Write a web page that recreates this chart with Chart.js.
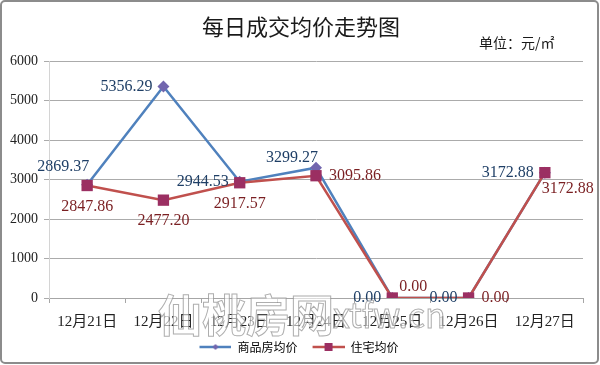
<!DOCTYPE html>
<html lang="zh-CN">
<head>
  <meta charset="UTF-8" />
  <title>每日成交均价走势图</title>
  <script src="https://cdn.jsdelivr.net/npm/chart.js"></script>
  <style>
    html, body { margin: 0; padding: 0; background: #fff; }
    #wrap { width: 600px; height: 365px; position: relative; }
  </style>
</head>
<body>
  <div id="wrap"><canvas id="priceChart"></canvas></div>

  <script>
    // 数据
    const days = ['12月21日', '12月22日', '12月23日', '12月24日', '12月25日', '12月26日', '12月27日'];
    const spfPrice = [2869.37, 5356.29, 2944.53, 3299.27, 0, 0, 3172.88];   // 商品房均价
    const zzPrice = [2847.86, 2477.20, 2917.57, 3095.86, 0, 0, 3172.88];    // 住宅均价
    const yTicks = [0, 1000, 2000, 3000, 4000, 5000, 6000];

    // 数值标签放在点的哪一边
    const spfLabelSide = ['aboveLeft', 'left', 'left', 'topLeft', 'left', 'left', 'left'];
    const zzLabelSide = ['below', 'below', 'below', 'right', 'aboveRight', 'right', 'belowRight'];

    const serif = '"Liberation Serif", "Noto Sans CJK SC", serif';
    const cjk = '"Noto Sans CJK SC", sans-serif';

    const blue = '#4F81BD', blueMark = '#7266AE', blueText = '#1F3F66';
    const red = '#C0504D', redMark = '#9B2F62', redText = '#7A1F22';

    // 图例里的"线+点"小图（左边留 15px 空白，拉开两项的距离）
    function legendIcon(lineColor, markColor, shape) {
      const c = document.createElement('canvas');
      c.width = 47; c.height = 10;
      const g = c.getContext('2d');
      g.strokeStyle = lineColor; g.lineWidth = 2.5;
      g.beginPath(); g.moveTo(15, 5); g.lineTo(47, 5); g.stroke();
      g.fillStyle = markColor;
      g.beginPath();
      if (shape === 'diamond') {
        g.moveTo(31, 2); g.lineTo(34, 5); g.lineTo(31, 8); g.lineTo(28, 5);
      } else {
        g.rect(27, 1, 8, 8);
      }
      g.fill();
      return c;
    }

    const frame = {
      id: 'frame',
      beforeDraw(chart) {
        const ctx = chart.ctx;
        ctx.save();
        ctx.fillStyle = '#fff';
        ctx.fillRect(0, 0, chart.width, chart.height);
        ctx.strokeStyle = '#8C8C8C';
        ctx.lineWidth = 2;
        ctx.beginPath();
        ctx.roundRect(1, 1, chart.width - 3, chart.height - 3, 4);
        ctx.stroke();
        // 标题和单位
        ctx.fillStyle = '#1a1a1a';
        ctx.textAlign = 'center';
        ctx.textBaseline = 'middle';
        ctx.font = '22px ' + cjk;
        ctx.fillText('每日成交均价走势图', 301, 27);
        ctx.font = '14px ' + cjk;
        ctx.textAlign = 'left';
        ctx.fillText('单位：元/㎡', 479, 43);
        ctx.restore();
      }
    };

    const valueLabels = {
      id: 'valueLabels',
      afterDatasetsDraw(chart) {
        const ctx = chart.ctx;
        const sides = [spfLabelSide, zzLabelSide];
        const colors = [blueText, redText];
        ctx.save();
        ctx.font = '16px ' + serif;
        ctx.textBaseline = 'middle';
        chart.data.datasets.forEach((ds, di) => {
          const meta = chart.getDatasetMeta(di);
          meta.data.forEach((pt, i) => {
            const txt = ds.data[i].toFixed(2);
            const side = sides[di][i];
            let x = pt.x, y = pt.y, align = 'center';
            if (side === 'left') { x -= 11; align = 'right'; }
            else if (side === 'right') { x += 13; align = 'left'; }
            else if (side === 'below') { y += 21; }
            else if (side === 'aboveLeft') { x -= 24; y -= 18; }
            else if (side === 'topLeft') { x += 2; y -= 10; align = 'right'; }
            else if (side === 'aboveRight') { x += 21; y -= 11; }
            else if (side === 'belowRight') { x += 23; y += 16; }
            ctx.textAlign = align;
            ctx.fillStyle = colors[di];
            ctx.fillText(txt, x, y);
          });
        });
        ctx.restore();
      }
    };

    const watermark = {
      id: 'watermark',
      afterDraw(chart) {
        const ctx = chart.ctx;
        ctx.save();
        ctx.textBaseline = 'alphabetic';
        ctx.textAlign = 'left';
        ctx.lineWidth = 1;
        ctx.strokeStyle = 'rgba(140,140,140,0.7)';
        ctx.fillStyle = 'rgba(255,255,255,0.6)';
        ctx.font = 'bold 44px ' + cjk;
        ctx.fillText('仙桃房网', 158, 332);
        ctx.strokeText('仙桃房网', 158, 332);
        ctx.font = '34px ' + cjk;
        ctx.fillText('xtfw.cn', 333, 328);
        ctx.strokeText('xtfw.cn', 333, 328);
        ctx.restore();
      }
    };

    new Chart(document.getElementById('priceChart'), {
      type: 'line',
      data: {
        labels: days,
        datasets: [
          {
            label: '商品房均价',
            data: spfPrice,
            borderColor: blue,
            borderWidth: 2.5,
            pointStyle: 'rectRot',
            pointRadius: 6,
            pointBackgroundColor: blueMark,
            pointBorderWidth: 0,
            tension: 0,
            order: 1
          },
          {
            label: '住宅均价',
            data: zzPrice,
            borderColor: red,
            borderWidth: 2.5,
            pointStyle: 'rect',
            pointRadius: 8,
            pointBackgroundColor: redMark,
            pointBorderWidth: 0,
            tension: 0,
            order: 0
          }
        ]
      },
      options: {
        responsive: true,
        maintainAspectRatio: false,
        animation: false,
        layout: { padding: { top: 61, right: 17, left: 0, bottom: 2 } },
        scales: {
          x: {
            offset: true,
            grid: { offset: true, drawOnChartArea: false, drawTicks: true, tickLength: 5, color: '#A6A6A6' },
            border: { color: '#A6A6A6', width: 1 },
            ticks: { color: '#222', font: { family: serif, size: 15 }, padding: 10, maxRotation: 0, autoSkip: false }
          },
          y: {
            min: 0,
            max: 6000,
            afterBuildTicks(scale) { scale.ticks = yTicks.map(v => ({ value: v })); },
            afterFit(scale) { scale.width = 49; },
            grid: { color: '#ABABAB', tickLength: 5 },
            border: { color: '#D4D4D4' },
            ticks: {
              color: '#222',
              font: { family: serif, size: 14 },
              padding: 6,
              callback: v => String(v)
            }
          }
        },
        plugins: {
          title: { display: false },
          tooltip: { enabled: false },
          legend: {
            position: 'bottom',
            labels: {
              usePointStyle: true,
              pointStyleWidth: 47,
              padding: 0,
              color: '#333',
              font: { family: cjk, size: 12 },
              generateLabels() {
                return [
                  { text: '商品房均价', pointStyle: legendIcon(blue, blueMark, 'diamond'), fillStyle: blue, strokeStyle: blue, lineWidth: 0, datasetIndex: 0 },
                  { text: '住宅均价', pointStyle: legendIcon(red, redMark, 'square'), fillStyle: red, strokeStyle: red, lineWidth: 0, datasetIndex: 1 }
                ];
              }
            }
          }
        }
      },
      plugins: [frame, valueLabels, watermark]
    });
  </script>
</body>
</html>
